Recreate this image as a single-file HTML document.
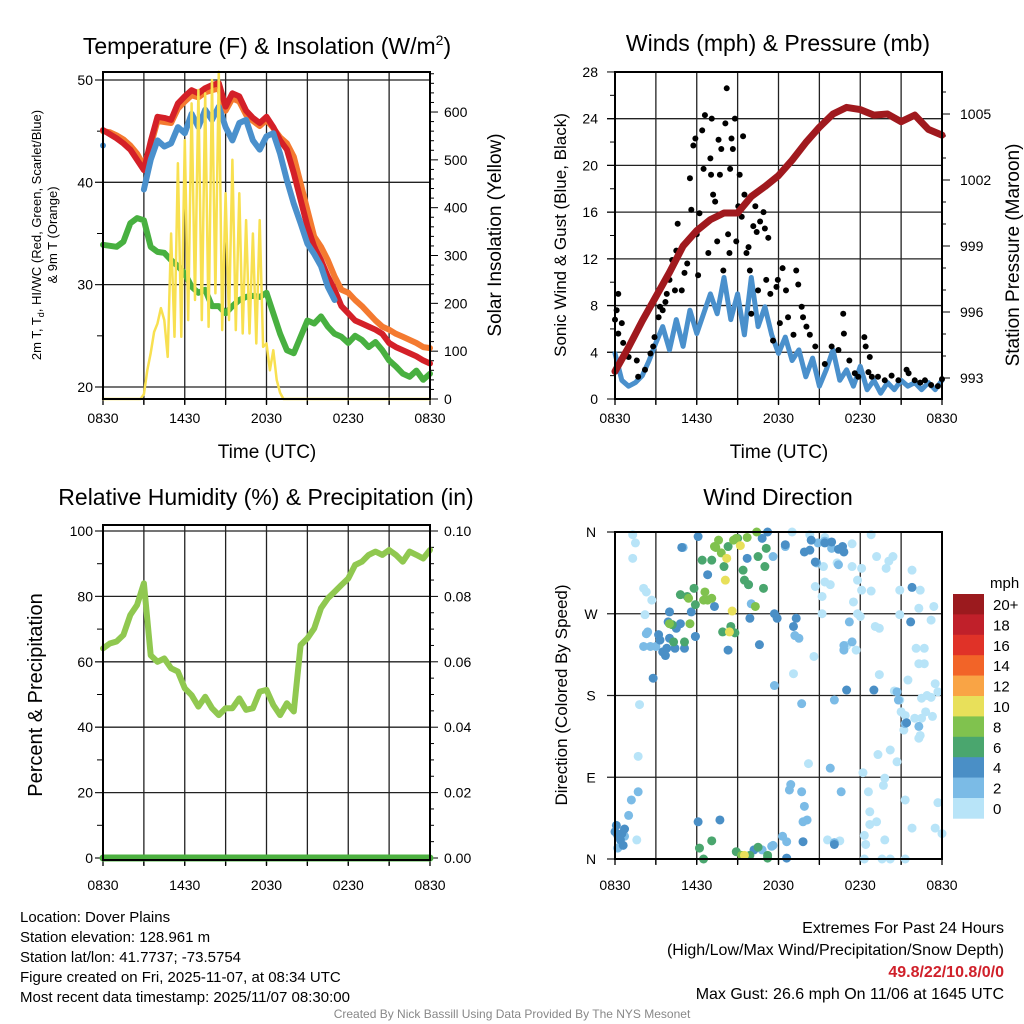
<!DOCTYPE html>
<html><head><meta charset="utf-8"><title>Dover Plains Meteogram</title>
<style>
html,body{margin:0;padding:0;background:#fff;}
svg{display:block;font-family:"Liberation Sans",Arial,sans-serif;}
</style></head>
<body>
<svg id="chart" width="1024" height="1024" viewBox="0 0 1024 1024" xmlns="http://www.w3.org/2000/svg">
<rect width="1024" height="1024" fill="#fff"/>
<g id="p1"></g>
<g id="p2"></g>
<g id="p3"></g>
<g id="p4"></g>

<text x="267" y="54" font-size="23" text-anchor="middle">Temperature (F) &amp; Insolation (W/m<tspan font-size="14" dy="-9">2</tspan><tspan dy="9">)</tspan></text>
<text x="778" y="51" font-size="23" text-anchor="middle">Winds (mph) &amp; Pressure (mb)</text>
<text x="266" y="505" font-size="23" text-anchor="middle">Relative Humidity (%) &amp; Precipitation (in)</text>
<text x="778" y="505" font-size="23" text-anchor="middle">Wind Direction</text>

<text x="267" y="458" font-size="19" text-anchor="middle">Time (UTC)</text>
<text x="779" y="458" font-size="19" text-anchor="middle">Time (UTC)</text>

<text transform="translate(41,235) rotate(-90)" font-size="13" text-anchor="middle">2m T, T<tspan font-size="9" dy="3">d</tspan><tspan dy="-3">, HI/WC (Red, Green, Scarlet/Blue)</tspan></text>
<text transform="translate(57,235) rotate(-90)" font-size="13" text-anchor="middle">&amp; 9m T (Orange)</text>
<text transform="translate(501,235) rotate(-90)" font-size="19" text-anchor="middle">Solar Insolation (Yellow)</text>
<text transform="translate(566,235) rotate(-90)" font-size="17" text-anchor="middle">Sonic Wind &amp; Gust (Blue, Black)</text>
<text transform="translate(1019,255) rotate(-90)" font-size="19" text-anchor="middle">Station Pressure (Maroon)</text>
<text transform="translate(42,695) rotate(-90)" font-size="20" text-anchor="middle">Percent &amp; Precipitation</text>
<text transform="translate(567,695) rotate(-90)" font-size="17" text-anchor="middle">Direction (Colored By Speed)</text>

<g font-size="15">
<text x="20" y="922">Location: Dover Plains</text>
<text x="20" y="942">Station elevation: 128.961 m</text>
<text x="20" y="962">Station lat/lon: 41.7737; -73.5754</text>
<text x="20" y="982">Figure created on Fri, 2025-11-07, at 08:34 UTC</text>
<text x="20" y="1002">Most recent data timestamp: 2025/11/07 08:30:00</text>
</g>
<g font-size="16" text-anchor="end">
<text x="1004" y="933">Extremes For Past 24 Hours</text>
<text x="1004" y="955">(High/Low/Max Wind/Precipitation/Snow Depth)</text>
<text x="1004" y="977" fill="#d0202a" font-weight="bold">49.8/22/10.8/0/0</text>
<text x="1004" y="999">Max Gust: 26.6 mph On 11/06 at 1645 UTC</text>
</g>
<text x="512" y="1018" font-size="12" fill="#888" text-anchor="middle">Created By Nick Bassill Using Data Provided By The NYS Mesonet</text>
</svg>
<script>
// ---------- data ----------
const timeLabels = ["0830","1430","2030","0230","0830"];
const temp2m = [45.1,44.7,44.3,43.8,43.2,42.2,41.2,44.0,46.4,46.3,46.1,47.7,48.4,49.0,48.7,49.2,49.5,49.7,47.4,48.7,48.4,47.0,46.3,45.8,46.4,45.4,44.1,43.2,40.9,38.3,35.7,33.7,32.4,30.8,29.5,27.9,27.2,26.5,26.2,25.9,25.6,25.2,24.3,23.9,23.6,23.3,23.0,22.6,22.3];
const temp9m = [45.0,44.9,44.6,44.2,43.6,42.8,41.6,43.6,46.0,45.9,45.8,47.2,47.9,48.5,48.3,48.8,49.0,49.2,47.0,48.2,47.9,46.6,46.0,45.5,46.1,45.3,44.4,43.8,42.5,39.9,37.3,34.7,33.7,32.4,30.8,29.5,29.2,28.5,27.9,27.2,26.5,25.9,25.6,25.2,24.9,24.6,24.3,23.9,23.8];
const windChill = [43.6,null,null,null,null,null,39.3,42.2,44.1,43.5,43.8,45.4,44.8,46.7,45.4,47.1,46.1,47.4,45.4,44.1,45.8,46.1,44.1,43.2,44.5,44.8,42.8,40.2,37.9,36.0,34.0,33.0,31.8,29.8,28.5,null,null,null,null,null,null,null,null,null,null,null,null,null,null];
const dewPoint = [33.9,33.8,33.7,34.2,36.0,36.5,36.3,33.7,33.2,33.1,32.4,31.8,31.1,29.8,29.2,29.5,27.9,27.9,27.2,27.9,28.5,28.8,28.9,28.8,29.2,27.2,25.2,23.6,23.3,24.9,26.5,26.2,26.9,25.9,25.2,24.9,24.3,25.0,24.6,23.9,24.4,23.6,22.6,22.0,21.3,21.0,21.6,20.7,21.3];
const solar = [0,0,0,0,0,0,0,0,0,0,0,0,10,60,96,140,158,190,165,88,346,130,493,130,541,165,618,207,646,165,639,151,667,221,684,144,430,165,500,144,430,137,374,137,346,116,374,109,116,60,102,40,13,0,0,0,0,0,0,0,0,0,0,0,0,0,0,0,0,0,0,0,0,0,0,0,0,0,0,0,0,0,0,0,0,0,0,0,0,0,0,0,0,0,0,0,0];
const pressure = [993.3,994.4,995.6,996.7,997.8,999.0,999.7,1000.2,1000.5,1000.5,1001.25,1001.7,1002.2,1002.9,1003.7,1004.4,1005.0,1005.3,1005.2,1004.95,1005.0,1004.65,1004.95,1004.3,1004.04];
const windSpeed = [3.9,1.6,1.1,1.4,2.0,3.3,4.8,6.2,4.2,6.8,4.5,7.6,5.6,7.3,9.0,7.3,10.4,6.8,9.0,5.5,10.4,6.2,7.9,5.5,3.9,5.3,3.3,4.2,1.9,3.5,1.1,2.5,4.2,1.6,2.5,1.1,2.8,0.8,1.6,0.5,1.4,0.8,1.6,1.1,1.4,0.8,1.4,0.8,1.6];
const gustHours = [0.24,0.12,0,0.24,0.5,0.6,1,1.6,1.7,2.2,2.6,2.8,2.9,3.2,3.3,3.5,3.7,3.8,4,4.2,4.4,4.5,4.6,4.9,5.1,5.3,5.5,5.6,5.75,5.9,6,6.1,6.2,6.4,6.5,6.6,6.85,7,7.05,7.1,7.2,7.35,7.5,7.6,7.7,7.8,7.95,8.1,8.2,8.3,8.4,8.45,8.55,8.65,8.8,8.9,9.05,9.15,9.3,9.4,9.5,9.65,9.8,9.9,10,10.15,10.3,10.4,10.5,10.65,10.9,11,11.1,11.25,11.4,11.6,11.85,11.95,12.1,12.3,12.55,12.7,13.1,13.3,13.45,13.7,13.8,14.05,14.3,14.7,15.4,15.9,16.4,16.75,16.8,17.2,17.6,17.85,18.3,18.4,18.7,18.6,18.85,19.3,19.8,20.3,20.8,21.4,21.55,22,22.4,22.75,23.2,23.7,24];
const gustSpeeds = [9.0,7.6,6.8,5.6,6.5,4.8,3.6,3.3,1.9,2.5,3.9,4.5,5.3,7.0,7.9,7.6,8.3,9.0,10.2,11.9,9.3,12.7,15.0,9.3,10.8,11.6,18.9,16.2,21.7,22.3,14.1,10.6,15.9,23.0,19.7,24.3,12.5,20.6,19.2,24.0,17.5,16.9,13.5,22.2,19.2,21.4,11.0,23.6,26.6,14.1,12.5,19.7,22.3,21.4,24.0,13.5,16.5,19.2,15.6,22.5,17.5,12.5,13.0,11.0,7.3,14.8,16.5,14.3,9.3,15.2,16.0,14.6,10.2,13.8,9.0,5.0,9.6,10.2,6.5,11.2,9.3,7.0,5.5,11.0,9.8,7.9,7.0,6.2,5.5,4.5,3.0,4.5,4.2,7.3,5.6,3.3,2.2,1.9,5.3,4.5,3.6,2.3,1.9,1.9,1.6,2.0,1.6,2.5,2.2,1.6,1.4,1.6,1.2,1.1,1.7];
const relHumidity = [64.1,65.6,66.2,68.2,74.3,77.4,84.0,62.0,60.0,61.0,58.0,57.0,51.9,49.8,46.3,49.3,45.8,43.7,45.8,45.8,48.8,45.3,45.8,50.9,51.4,46.8,43.7,47.3,44.8,65.1,67.2,70.2,76.4,79.4,81.4,83.5,85.5,89.6,90.6,92.7,93.7,92.7,94.2,92.7,90.6,93.7,92.7,91.6,94.2];
const precip = [0,0,0,0,0,0,0,0,0,0,0,0,0,0,0,0,0,0,0,0,0,0,0,0,0];
const dirHours = [1.3,1.5,1.3,2.1,2.3,2.7,2.2,1.8,1.7,13.0,14.3,15.4,17.4,18.8,19.2,20.1,20.4,19.9,21.8,15.3,15.8,16.3,17.4,18.1,17.8,18.1,18.8,20.9,22.4,15.4,14.7,15.2,17.5,17.8,18.0,15.2,20.9,22.3,23.4,23.2,19.1,19.4,17.0,17.7,14.6,13.1,19.4,20.5,20.9,21.5,22.1,22.7,22.3,22.7,23.5,23.7,22.9,22.5,23.2,21.0,21.3,22.8,23.3,22.0,22.5,21.2,22.3,22.4,19.3,20.2,20.7,14.2,18.2,19.8,19.7,18.6,21.3,23.7,18.7,19.2,18.7,21.8,23.5,24.0,18.3,19.8,15.6,16.5,18.4,18.3,19.6,20.2,21.3,0.4,1.6,
 2.4,2.3,2.1,2.6,3.0,5.0,5.9,10.0,11.6,11.7,12.5,13.2,13.5,13.7,14.8,16.1,17.2,16.8,17.4,16.8,20.7,20.8,21.3,22.3,12.9,12.8,13.7,13.9,14.1,13.8,15.8,16.6,16.1,12.3,12.6,11.5,11.6,10.8,14.9,15.9,15.4,16.4,1.2,1.7,1.0,0.7,0.2,
 0.0,0.2,0.5,0.1,0.7,0.4,0.6,2.8,3.2,3.3,3.5,3.7,3.8,4.0,4.4,4.5,4.8,5.1,3.9,4.0,5.6,5.9,6.1,4.9,6.8,7.3,8.3,9.7,9.8,9.9,10.6,10.8,11.2,11.7,11.9,12.5,13.1,13.3,13.9,14.3,14.4,14.7,15.4,15.9,16.4,16.7,16.8,17.0,19.0,21.4,21.7,21.8,6.1,7.7,10.2,12.6,13.8,16.1,
 4.8,5.3,5.9,5.8,6.4,7.1,8.0,8.3,9.0,9.4,9.5,9.8,10.5,10.9,11.0,11.1,4.2,4.3,5.1,7.9,8.5,8.8,6.2,6.5,7.1,8.9,9.9,10.5,11.2,11.2,
 6.6,6.8,6.5,7.1,7.3,7.6,7.4,7.8,8.7,8.9,9.7,10.4,5.4,5.5,4.0,10.3,9.3,
 9.2,8.2,8.1,8.6,8.4,9.5];
const dirDegrees = [357,348,331,298,294,285,269,170,113,360,357,354,347,357,333,328,333,320,318,322,302,326,322,320,307,296,295,296,296,305,300,289,283,270,267,270,269,276,278,263,256,254,235,230,223,204,203,185,175,197,232,232,215,215,193,184,180,177,178,162,158,162,157,155,155,142,133,136,115,120,107,105,95,89,81,74,65,62,52,41,38,34,34,28,26,21,21,20,16,0,0,0,0,15,21,
 250,248,234,234,234,343,245,281,333,191,344,246,243,171,326,175,261,235,239,230,184,175,149,146,82,76,74,58,43,41,100,74,18,25,19,14,15,10,348,342,350,324,65,74,48,25,12,
 30,26,28,37,33,21,15,199,247,241,228,224,232,243,232,254,259,232,261,272,272,245,355,343,313,278,230,331,302,265,236,353,360,270,265,346,256,265,338,340,351,327,348,349,341,344,338,186,186,150,261,299,41,43,10,1,19,16,
 291,289,280,298,329,329,322,344,353,318,307,302,333,298,322,342,258,239,239,250,256,249,12,0,20,8,4,13,4,1,
 294,285,285,287,344,351,343,337,351,353,354,360,287,259,259,278,4,
 345,331,307,273,250,4];
const dirSpeeds = [1,1,1,1,1,1,1,1,1,1,1,1,1,1,1,1,1,1,1,1,1,1,1,1,1,1,1,1,1,1,1,1,1,1,1,1,1,1,1,1,1,1,1,1,1,1,1,1,1,1,1,1,1,1,1,1,1,1,1,1,1,1,1,1,1,1,1,1,1,1,1,1,1,1,1,1,1,1,1,1,1,1,1,1,1,1,1,1,1,1,1,1,1,1,1,
 3,3,3,3,3,3,3,3,3,3,3,3,3,3,3,3,3,3,3,3,3,3,3,3,3,3,3,3,3,3,3,3,3,3,3,3,3,3,3,3,3,3,3,3,3,3,3,
 5,5,5,5,5,5,5,5,5,5,5,5,5,5,5,5,5,5,5,5,5,5,5,5,5,5,5,5,5,5,5,5,5,5,5,5,5,5,5,5,5,5,5,5,5,5,5,5,5,5,5,5,5,5,5,5,5,5,
 7,7,7,7,7,7,7,7,7,7,7,7,7,7,7,7,7,7,7,7,7,7,7,7,7,7,7,7,7,7,
 9,9,9,9,9,9,9,9,9,9,9,9,9,9,9,9,9,
 11,11,11,11,11,11];
const speedBinLabels = ["0","2","4","6","8","10","12","14","16","18","20+"];
const speedBinColors = ["#b8e4f8","#7bbbe6","#4a8fc6","#4aa66e","#80c24e","#e8e05a","#f9a445","#f26428","#e03228","#c0202a","#9b1a1e"];

// ---------- helpers ----------
const NS = "http://www.w3.org/2000/svg";
function mk(parent, tag, attrs) {
  const e = document.createElementNS(NS, tag);
  for (const k in attrs) e.setAttribute(k, attrs[k]);
  parent.appendChild(e);
  return e;
}
function txt(parent, x, y, s, size, anchor, name) {
  const t = mk(parent, "text", {x: x, y: y, "font-size": size, "text-anchor": anchor});
  t.textContent = s;
  
  
  return t;
}
function linePath(parent, times, vals, xs, ys, color, w, name) {
  let segs = [];
  let cur = [];
  for (let i = 0; i < vals.length; i++) {
    if (vals[i] === null) { if (cur.length) segs.push(cur); cur = []; continue; }
    cur.push([xs(times[i]), ys(vals[i])]);
  }
  if (cur.length) segs.push(cur);
  const g = mk(parent, "g", {});
  
  
  segs.forEach(s => {
    if (s.length === 1) {
      const c = mk(g, "circle", {cx: s[0][0], cy: s[0][1], r: w / 2, fill: color});
      
      
      return;
    }
    const p = mk(g, "path", {d: "M" + s.map(q => q[0].toFixed(1) + "," + q[1].toFixed(1)).join("L"), fill: "none", stroke: color, "stroke-width": w, "stroke-linejoin": "round", "stroke-linecap": "round"});
    
    
  });
}
const halfHours = vals => vals.map((v, i) => i * 0.5);
const quarterHours = vals => vals.map((v, i) => i * 0.25);
const wholeHours = vals => vals.map((v, i) => i);

function frame(g, L, T, R, B, name) {
  const r = mk(g, "rect", {x: L, y: T, width: R - L, height: B - T, fill: "none", stroke: "#000", "stroke-width": 2});
  
  
}
function vgrid(g, L, T, B, xs, name) {
  for (let h = 3; h < 24; h += 3) {
    const l = mk(g, "line", {x1: xs(h), x2: xs(h), y1: T, y2: B + 5, stroke: "#222", "stroke-width": 1.3});
    
    
  }
  for (let h = 0; h <= 24; h += 3) {
    const l = mk(g, "line", {x1: xs(h), x2: xs(h), y1: B, y2: B + 6, stroke: "#000", "stroke-width": 1.3});
    
    
  }
}
function hgrid(g, L, R, y, name) {
  const l = mk(g, "line", {x1: L - 8, x2: R, y1: y, y2: y, stroke: "#222", "stroke-width": 1.3});
  
  
}
function tick(g, x, y, len, name) {
  const l = mk(g, "line", {x1: x, x2: x + len, y1: y, y2: y, stroke: "#000", "stroke-width": 1});
  
  
}
function xlabels(g, xs, y) {
  timeLabels.forEach((s, i) => txt(g, xs(i * 6), y, s, 14, "middle", "x-tick-label"));
}

// ---------- Panel 1: temperature ----------
(function () {
  const g = document.getElementById("p1");
  const L = 103, R = 430, T = 72, B = 399;
  const xs = h => L + h * (R - L) / 24;
  const yt = v => 80 + (50 - v) * 10.233;
  const ys = w => 399 - w * 0.4783;
  vgrid(g, L, T, B, xs, "temperature-v-grid");
  for (let v = 20; v <= 50; v += 10) { hgrid(g, L, R, yt(v), "temperature-h-grid"); txt(g, 93, yt(v) + 5, String(v), 14, "end", "temperature-y-tick-label"); }
  for (let v = 25; v <= 45; v += 10) tick(g, L - 6, yt(v), 6, "temperature-minor-tick");
  for (let w = 0; w <= 680; w += 20) tick(g, R, ys(w), w % 100 === 0 ? 8 : 4, "solar-tick");
  for (let w = 0; w <= 600; w += 100) txt(g, 444, ys(w) + 5, String(w), 14, "start", "solar-y-tick-label");
  xlabels(g, xs, 423);
  linePath(g, halfHours(temp9m), temp9m, xs, yt, "#f47a30", 6, "temp-9m-series");
  linePath(g, halfHours(temp2m), temp2m, xs, yt, "#d42028", 6, "temp-2m-series");
  linePath(g, halfHours(windChill), windChill, xs, yt, "#4a90cc", 6, "wind-chill-series");
  linePath(g, halfHours(dewPoint), dewPoint, xs, yt, "#48b040", 6, "dew-point-series");
  linePath(g, quarterHours(solar), solar, xs, ys, "#f8e050", 2.5, "solar-series");
  frame(g, L, T, R, B, "temperature-plot-frame");
})();

// ---------- Panel 2: winds ----------
(function () {
  const g = document.getElementById("p2");
  const L = 615, R = 942, T = 72, B = 399;
  const xs = h => L + h * (R - L) / 24;
  const yw = v => 399 - v * 11.68;
  const yp = p => 378 - (p - 993) * 22;
  vgrid(g, L, T, B, xs, "winds-v-grid");
  for (let v = 0; v <= 28; v += 4) { if (v > 0 && v < 28) hgrid(g, L, R, yw(v), "winds-h-grid"); txt(g, 598, yw(v) + 5, String(v), 14, "end", "wind-y-tick-label"); tick(g, L - 8, yw(v), 8, "wind-tick"); }
  for (let v = 2; v <= 26; v += 4) tick(g, L - 5, yw(v), 5, "wind-minor-tick");
  for (let p = 992; p <= 1006; p += 1) { if (yp(p) > T && yp(p) < B) tick(g, R, yp(p), p % 3 === 0 ? 8 : 4, "pressure-tick"); }
  for (let p = 993; p <= 1005; p += 3) txt(g, 960, yp(p) + 5, String(p), 14, "start", "pressure-y-tick-label");
  xlabels(g, xs, 423);
  linePath(g, halfHours(windSpeed), windSpeed, xs, yw, "#4a90cc", 5, "wind-speed-series");
  const gg = mk(g, "g", {});
  
  
  gustHours.forEach((h, i) => {
    const c = mk(gg, "circle", {cx: xs(h), cy: yw(gustSpeeds[i]), r: 3, fill: "#000"});
    
    
  });
  linePath(g, wholeHours(pressure), pressure, xs, yp, "#a0191e", 7, "pressure-series");
  frame(g, L, T, R, B, "winds-plot-frame");
})();

// ---------- Panel 3: humidity ----------
(function () {
  const g = document.getElementById("p3");
  const L = 103, R = 430, T = 525, B = 860;
  const xs = h => L + h * (R - L) / 24;
  const yr = v => 858 - v * 3.27;
  const yq = v => 858 - v * 3270;
  vgrid(g, L, T, B, xs, "humidity-v-grid");
  for (let v = 0; v <= 100; v += 20) { hgrid(g, L, R, yr(v), "humidity-h-grid"); txt(g, 93, yr(v) + 5, String(v), 14, "end", "humidity-y-tick-label"); }
  for (let v = 10; v <= 90; v += 20) tick(g, L - 6, yr(v), 6, "humidity-minor-tick");
  for (let k = 0; k <= 20; k++) tick(g, R, yq(k * 0.005), k % 4 === 0 ? 8 : 4, "precip-tick");
  for (let k = 0; k <= 5; k++) txt(g, 444, yq(k * 0.02) + 5, (k * 0.02).toFixed(2), 14, "start", "precip-y-tick-label");
  xlabels(g, xs, 890);
  linePath(g, halfHours(relHumidity), relHumidity, xs, yr, "#90c850", 6, "humidity-series");
  linePath(g, wholeHours(precip), precip, xs, yq, "#4cb040", 7, "precip-series");
  frame(g, L, T, R, B, "humidity-plot-frame");
})();

// ---------- Panel 4: wind direction ----------
(function () {
  const g = document.getElementById("p4");
  const L = 615, R = 942, T = 532, B = 859;
  const xs = h => L + h * (R - L) / 24;
  const yd = d => B - d * (B - T) / 360;
  vgrid(g, L, T, B, xs, "direction-v-grid");
  const dirLabels = ["N", "E", "S", "W", "N"];
  dirLabels.forEach((s, i) => { hgrid(g, L, R, yd(i * 90), "direction-h-grid"); txt(g, 591, yd(i * 90) + 5, s, 14, "middle", "direction-y-tick-label"); });
  xlabels(g, xs, 890);
  const dg = mk(g, "g", {});
  
  
  dirHours.forEach((h, i) => {
    const bin = Math.min(10, Math.floor(dirSpeeds[i] / 2));
    const c = mk(dg, "circle", {cx: xs(h), cy: yd(dirDegrees[i]), r: 4.5, fill: speedBinColors[bin]});
    
    
  });
  frame(g, L, T, R, B, "direction-plot-frame");
  const cb = mk(g, "g", {});
  
  
  const top = 594, bh = 20.4;
  txt(cb, 990, 588, "mph", 15, "start", "colorbar-title");
  speedBinLabels.forEach((s, i) => {
    const idx = 10 - i;
    const r = mk(cb, "rect", {x: 953, y: top + i * bh, width: 31, height: bh + 0.3, fill: speedBinColors[idx]});
    
    
    txt(cb, 993, top + i * bh + 16, speedBinLabels[idx], 15, "start", "colorbar-label");
  });
})();
</script>
</body></html>
